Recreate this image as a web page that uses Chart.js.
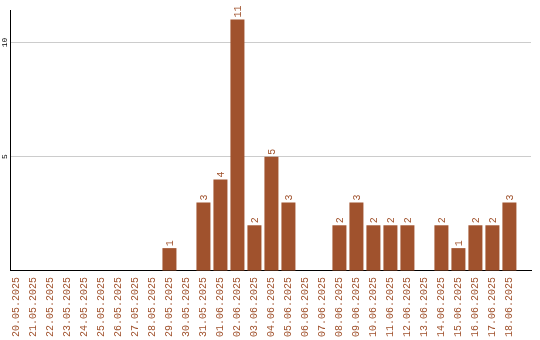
<!DOCTYPE html>
<html>
<head>
<meta charset="utf-8">
<script src="https://cdn.jsdelivr.net/npm/chart.js@4"></script>
<style>
  html, body { margin: 0; padding: 0; background: #fff; }
</style>
</head>
<body>
<canvas id="chart" width="540" height="340"></canvas>
<script>
// Days shown on the x axis
const days = [
    '20.05.2025', '21.05.2025', '22.05.2025', '23.05.2025', '24.05.2025',
    '25.05.2025', '26.05.2025', '27.05.2025', '28.05.2025', '29.05.2025',
    '30.05.2025', '31.05.2025', '01.06.2025', '02.06.2025', '03.06.2025',
    '04.06.2025', '05.06.2025', '06.06.2025', '07.06.2025', '08.06.2025',
    '09.06.2025', '10.06.2025', '11.06.2025', '12.06.2025', '13.06.2025',
    '14.06.2025', '15.06.2025', '16.06.2025', '17.06.2025', '18.06.2025'
];

// Count per day
const counts = [
    0, 0, 0, 0, 0, 0, 0, 0, 0, 1,
    0, 3, 4, 11, 2, 5, 3, 0, 0, 2,
    3, 2, 2, 2, 0, 2, 1, 2, 2, 3
];

// Y tick labels / grid lines
const yTicks = [5, 10];

const brown = '#a0522d';
const monoFont = '"Liberation Mono", monospace';

// rotated value labels above the bars
const barLabels = {
    id: 'barLabels',
    afterDatasetsDraw(chart) {
        const ctx = chart.ctx;
        const meta = chart.getDatasetMeta(0);
        ctx.save();
        ctx.fillStyle = brown;
        ctx.font = '10px ' + monoFont;
        ctx.textAlign = 'left';
        ctx.textBaseline = 'middle';
        meta.data.forEach((bar, i) => {
            if (!counts[i]) return;
            ctx.save();
            ctx.translate(bar.x + 0.5, bar.y - 2);
            ctx.rotate(-Math.PI / 2);
            ctx.fillText(String(counts[i]), 0, 0);
            ctx.restore();
        });
        ctx.restore();
    }
};

// rotated y tick labels
const yLabels = {
    id: 'yLabels',
    afterDraw(chart) {
        const ctx = chart.ctx;
        const y = chart.scales.y;
        ctx.save();
        ctx.fillStyle = '#000';
        ctx.font = '8px ' + monoFont;
        ctx.textAlign = 'center';
        ctx.textBaseline = 'middle';
        yTicks.forEach(v => {
            ctx.save();
            ctx.translate(5, y.getPixelForValue(v));
            ctx.rotate(-Math.PI / 2);
            ctx.fillText(String(v), 0, 0);
            ctx.restore();
        });
        ctx.restore();
    }
};

new Chart(document.getElementById('chart'), {
    type: 'bar',
    data: {
        datasets: [{
            data: counts.map((v, i) => ({ x: i, y: v })),
            backgroundColor: brown,
            borderWidth: 0,
            barPercentage: 0.824,
            categoryPercentage: 1
        }]
    },
    options: {
        responsive: false,
        animation: false,
        devicePixelRatio: 1,
        layout: { padding: { left: 10, right: 9, top: 10, bottom: 0 } },
        plugins: {
            legend: { display: false },
            tooltip: { enabled: false }
        },
        scales: {
            x: {
                type: 'linear',
                offset: false,
                min: -0.38,
                max: 30.27,
                afterBuildTicks: s => { s.ticks = days.map((d, i) => ({ value: i })); },
                afterFit: s => { s.height -= 3; },
                grid: { display: false, drawTicks: false },
                border: { color: '#000', width: 1 },
                ticks: {
                    autoSkip: false,
                    maxRotation: 90,
                    minRotation: 90,
                    padding: 6,
                    color: brown,
                    font: { family: monoFont, size: 10 },
                    callback: v => days[v]
                }
            },
            y: {
                min: 0,
                max: 11.42,
                afterBuildTicks: s => { s.ticks = [0].concat(yTicks).map(v => ({ value: v })); },
                grid: {
                    drawTicks: false,
                    color: c => (c.tick && c.tick.value === 0 ? 'rgba(0,0,0,0)' : '#cccccc'),
                    lineWidth: 1
                },
                border: { color: '#000', width: 1 },
                ticks: { display: false }
            }
        }
    },
    plugins: [barLabels, yLabels]
});
</script>
</body>
</html>
